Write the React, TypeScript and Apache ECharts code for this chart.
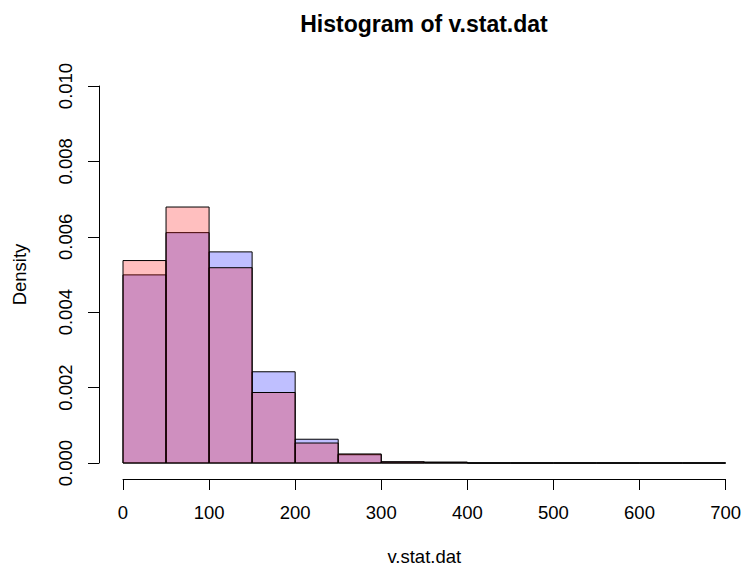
import React, { useEffect, useRef } from "react";
import * as echarts from "echarts";

// Histogram bin edges (width 50) and the density of each bin for the two overlaid samples
const breaks = [0, 50, 100, 150, 200, 250, 300, 350, 400, 450, 500, 550, 600, 650, 700];
const blueDensity = [0.00499, 0.00611, 0.0056, 0.00242, 0.00063, 0.00022, 0.00003, 0.00002, 0, 0, 0, 0, 0, 0];
const redDensity = [0.00537, 0.00679, 0.00518, 0.00187, 0.00053, 0.00024, 0.00003, 0.00002, 0, 0, 0, 0, 0, 0];

const xTicks = [0, 100, 200, 300, 400, 500, 600, 700];
const yTicks = [0, 0.002, 0.004, 0.006, 0.008, 0.01];

const FONT = "'Liberation Sans', Arial, sans-serif";

function binsOf(dens: number[]) {
  return dens.map((d, i) => [breaks[i], breaks[i + 1], d]);
}

function histSeries(name: string, dens: number[], fill: string) {
  return {
    type: "custom",
    name,
    data: binsOf(dens),
    encode: { x: [0, 1], y: 2 },
    clip: false,
    renderItem: (_params: any, api: any) => {
      const x0 = api.value(0);
      const x1 = api.value(1);
      const y = api.value(2);
      const a = api.coord([x0, 0]);
      const b = api.coord([x1, y]);
      return {
        type: "polygon",
        shape: {
          points: [
            [a[0], a[1]],
            [b[0], a[1]],
            [b[0], b[1]],
            [a[0], b[1]],
          ],
        },
        style: { fill, stroke: "#000", lineWidth: 1 },
      };
    },
  };
}

export default function App() {
  const ref = useRef<HTMLDivElement>(null);

  useEffect(() => {
    if (!ref.current) return;
    const chart = echarts.init(ref.current, null, { renderer: "svg" });
    const axisText = { color: "#000", fontSize: 18.5, fontFamily: FONT };
    chart.setOption({
      animation: false,
      backgroundColor: "#fff",
      grid: { left: 123, right: 18, top: 86, bottom: 107, containLabel: false },
      graphic: [
        {
          type: "text",
          x: 424,
          y: 24,
          style: {
            text: "Histogram of v.stat.dat",
            fill: "#000",
            font: `bold 23px ${FONT}`,
            textAlign: "center",
            textVerticalAlign: "middle",
          },
        },
      ],
      xAxis: {
        type: "value",
        min: xTicks[0],
        max: xTicks[xTicks.length - 1],
        interval: 100,
        offset: 16,
        name: "v.stat.dat",
        nameLocation: "middle",
        nameGap: 68,
        nameTextStyle: axisText,
        axisLine: { show: true, onZero: false, lineStyle: { color: "#000", width: 1 } },
        axisTick: { show: true, length: 11, lineStyle: { color: "#000" } },
        axisLabel: { ...axisText, margin: 24, showMinLabel: true, showMaxLabel: true },
        splitLine: { show: false },
      },
      yAxis: {
        type: "value",
        min: yTicks[0],
        max: yTicks[yTicks.length - 1],
        interval: 0.002,
        offset: 24,
        name: "Density",
        nameLocation: "middle",
        nameGap: 70,
        nameTextStyle: axisText,
        axisLine: { show: true, onZero: false, lineStyle: { color: "#000", width: 1 } },
        axisTick: { show: true, length: 11, lineStyle: { color: "#000" } },
        axisLabel: {
          ...axisText,
          rotate: 90,
          margin: 24,
          formatter: (v: number) => v.toFixed(3),
          showMinLabel: true,
          showMaxLabel: true,
        },
        splitLine: { show: false },
      },
      series: [
        histSeries("blue", blueDensity, "rgba(0,0,255,0.25)"),
        histSeries("red", redDensity, "rgba(255,0,0,0.25)"),
      ],
    });
    return () => chart.dispose();
  }, []);

  return (
    <div
      ref={ref}
      style={{ position: "fixed", left: 0, top: 0, width: 744, height: 571, background: "#fff" }}
    />
  );
}
